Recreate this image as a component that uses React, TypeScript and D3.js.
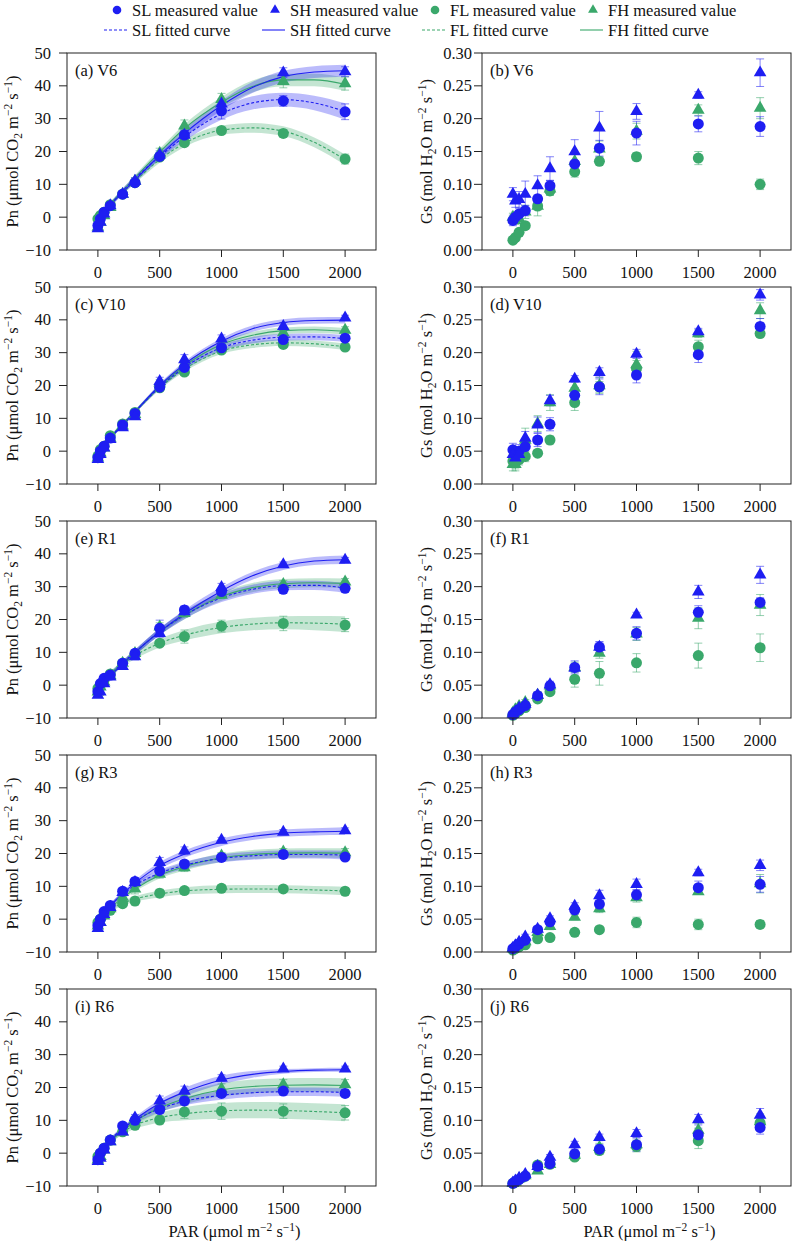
import React from "react";
import * as d3 from "d3";

// ---------- data ----------
const PAR = [0, 20, 50, 100, 200, 300, 500, 700, 1000, 1500, 2000];
const FIT_PAR = [0, 100, 200, 300, 500, 700, 1000, 1250, 1500, 1750, 2000];
const X_TICKS = [0, 500, 1000, 1500, 2000];
const PN_TICKS = [-10, 0, 10, 20, 30, 40, 50];
const GS_TICKS = [0, 0.05, 0.1, 0.15, 0.2, 0.25, 0.3];
const SERIES_NAMES = ["SL", "SH", "FL", "FH"];
const PANEL_LABELS = ["(a) V6", "(b) V6", "(c) V10", "(d) V10", "(e) R1", "(f) R1", "(g) R3", "(h) R3", "(i) R6", "(j) R6"];

// (a) V6 Pn
const pnV6_SL = [-2.5, -0.5, 1.5, 3.5, 7, 10.5, 18.5, 25, 32.4, 35.4, 32.1];
const pnV6_SH = [-3.5, -1.5, 1, 3.5, 7, 11, 19, 25, 34.5, 44, 44.3];
const pnV6_FL = [-0.5, 0.5, 1.5, 3.8, 7, 10.5, 18.3, 22.7, 26.4, 25.5, 17.7];
const pnV6_FH = [-3, -1.5, 0.5, 3, 7, 11, 19.5, 27.8, 35.9, 41.4, 40.7];
const pnV6_SL_err = [0.5, 0.5, 0.5, 0.6, 0.8, 1.0, 1.2, 1.5, 2.5, 1.6, 2.4];
const pnV6_SH_err = [0.6, 0.6, 0.6, 0.6, 0.8, 1.0, 1.2, 1.5, 1.5, 1.5, 1.5];
const pnV6_FL_err = [0.4, 0.4, 0.4, 0.5, 0.6, 0.8, 1.0, 1.0, 0.8, 1.2, 1.5];
const pnV6_FH_err = [0.6, 0.6, 0.6, 0.6, 0.8, 1.0, 1.5, 1.8, 1.8, 2.0, 2.0];
const pnV6_SL_fit = [-2.5, 3.5, 8, 11.8, 18.5, 24.5, 31.5, 34.8, 35.8, 34.8, 32.2];
const pnV6_SH_fit = [-3, 3.5, 7.5, 11.3, 18.8, 25.5, 34, 39.5, 42.8, 44.2, 44.6];
const pnV6_FL_fit = [-0.5, 4, 7.5, 11, 17.5, 22.5, 26.5, 27.2, 26.2, 22.8, 17.5];
const pnV6_FH_fit = [-3, 3.6, 8, 12, 19.8, 27, 35, 39.8, 41.8, 41.8, 40.5];
const pnV6_SL_band = [0.8, 0.7, 0.7, 0.8, 1.0, 1.3, 1.8, 2.0, 2.1, 2.2, 2.5];
const pnV6_SH_band = [0.8, 0.7, 0.7, 0.8, 1.0, 1.2, 1.5, 1.7, 1.8, 1.8, 1.8];
const pnV6_FL_band = [0.8, 0.6, 0.6, 0.7, 0.9, 1.1, 1.4, 1.5, 1.5, 1.5, 1.6];
const pnV6_FH_band = [0.8, 0.7, 0.7, 0.8, 1.0, 1.3, 1.6, 1.8, 1.9, 1.9, 2.0];

// (b) V6 Gs
const gsV6_SL = [0.045, 0.05, 0.055, 0.06, 0.078, 0.098, 0.131, 0.155, 0.178, 0.192, 0.188];
const gsV6_SH = [0.085, 0.075, 0.077, 0.085, 0.098, 0.124, 0.15, 0.186, 0.211, 0.236, 0.27];
const gsV6_FL = [0.015, 0.019, 0.027, 0.037, 0.067, 0.09, 0.119, 0.135, 0.142, 0.14, 0.1];
const gsV6_FH = [0.05, 0.045, 0.048, 0.058, 0.067, 0.093, 0.135, 0.154, 0.181, 0.213, 0.216];
const gsV6_SL_err = [0.008, 0.008, 0.008, 0.008, 0.006, 0.008, 0.015, 0.012, 0.018, 0.012, 0.015];
const gsV6_SH_err = [0.01, 0.01, 0.012, 0.02, 0.015, 0.018, 0.018, 0.025, 0.012, 0.005, 0.021];
const gsV6_FL_err = [0.003, 0.003, 0.004, 0.005, 0.006, 0.006, 0.008, 0.005, 0.006, 0.01, 0.008];
const gsV6_FH_err = [0.006, 0.006, 0.008, 0.01, 0.015, 0.01, 0.012, 0.012, 0.012, 0.008, 0.016];

// (c) V10 Pn
const pnV10_SL = [-2, 0, 1.5, 4, 8, 11.5, 19.5, 25.5, 31.5, 34, 34.4];
const pnV10_SH = [-2.5, -1, 1, 3.6, 7.2, 10.5, 21.3, 27.9, 34.2, 38, 40.6];
const pnV10_FL = [-1.5, 0.5, 1.5, 4.7, 8.3, 11.8, 19.3, 24.1, 30.8, 32.5, 31.7];
const pnV10_FH = [-2, -0.5, 1, 4, 7.7, 11.2, 20.8, 26.5, 32, 36.1, 36.9];
const pnV10_SL_err = [0.5, 0.5, 0.5, 0.5, 0.6, 0.8, 1.0, 1.2, 1.0, 1.0, 1.0];
const pnV10_SH_err = [0.5, 0.5, 0.5, 0.5, 0.6, 0.8, 1.2, 1.5, 1.2, 1.2, 0.8];
const pnV10_FL_err = [0.4, 0.4, 0.4, 0.5, 0.6, 0.8, 0.8, 1.0, 0.8, 0.8, 0.8];
const pnV10_FH_err = [0.5, 0.5, 0.5, 0.5, 0.6, 0.8, 1.0, 1.2, 1.0, 1.2, 1.0];
const pnV10_SL_fit = [-2, 4, 8, 12, 19.5, 25.5, 31.5, 33.8, 34.7, 34.8, 34.3];
const pnV10_SH_fit = [-2.5, 3.8, 8, 12, 20, 26.5, 33.5, 37.3, 39.2, 39.8, 39.9];
const pnV10_FL_fit = [-1.5, 4.2, 8.3, 12, 19.3, 25, 30.5, 32.4, 33, 32.7, 31.8];
const pnV10_FH_fit = [-2, 4, 8, 12, 19.8, 26, 32.5, 35.3, 36.7, 37, 36.5];
const pnV10_SL_band = [0.6, 0.5, 0.5, 0.5, 0.6, 0.8, 0.9, 1.0, 1.0, 1.0, 1.0];
const pnV10_SH_band = [0.6, 0.5, 0.5, 0.5, 0.6, 0.8, 0.9, 1.0, 1.0, 1.0, 1.0];
const pnV10_FL_band = [0.6, 0.5, 0.5, 0.5, 0.6, 0.8, 0.9, 1.0, 1.0, 1.0, 1.0];
const pnV10_FH_band = [0.6, 0.5, 0.5, 0.5, 0.6, 0.8, 0.9, 1.0, 1.0, 1.0, 1.0];

// (d) V10 Gs
const gsV10_SL = [0.052, 0.045, 0.05, 0.057, 0.067, 0.091, 0.135, 0.148, 0.166, 0.197, 0.24];
const gsV10_SH = [0.045, 0.04, 0.045, 0.07, 0.09, 0.127, 0.16, 0.17, 0.198, 0.232, 0.288];
const gsV10_FL = [0.035, 0.033, 0.037, 0.042, 0.047, 0.067, 0.124, 0.148, 0.176, 0.209, 0.229];
const gsV10_FH = [0.03, 0.03, 0.045, 0.067, 0.092, 0.124, 0.146, 0.15, 0.182, 0.229, 0.264];
const gsV10_SL_err = [0.01, 0.01, 0.01, 0.012, 0.01, 0.01, 0.012, 0.012, 0.012, 0.012, 0.012];
const gsV10_SH_err = [0.01, 0.008, 0.008, 0.01, 0.012, 0.008, 0.005, 0.007, 0.007, 0.005, 0.008];
const gsV10_FL_err = [0.01, 0.01, 0.008, 0.008, 0.005, 0.006, 0.012, 0.008, 0.012, 0.01, 0.006];
const gsV10_FH_err = [0.01, 0.01, 0.012, 0.018, 0.012, 0.012, 0.01, 0.012, 0.02, 0.006, 0.012];

// (e) R1 Pn
const pnR1_SL = [-2, 0.5, 2.1, 3.1, 6.7, 9.7, 17.3, 22.9, 28.5, 29.2, 29.5];
const pnR1_SH = [-3, -2, 0.5, 2.5, 5.7, 8.7, 15.8, 22.4, 29.8, 36.7, 38.1];
const pnR1_FL = [-1, 0, 1.5, 3.4, 6.7, 9.4, 12.8, 14.8, 18, 18.8, 18.3];
const pnR1_FH = [-2, -0.5, 1, 2.9, 6.7, 9.7, 17.8, 21.9, 27.4, 30.7, 31.5];
const pnR1_SL_err = [0.5, 0.5, 0.5, 0.6, 0.8, 1.0, 2.5, 1.2, 1.0, 1.2, 1.0];
const pnR1_SH_err = [0.5, 0.5, 0.5, 0.6, 0.8, 1.0, 1.2, 1.0, 1.2, 0.8, 0.8];
const pnR1_FL_err = [0.4, 0.4, 0.4, 0.5, 0.6, 0.8, 1.0, 2.0, 1.8, 2.2, 2.0];
const pnR1_FH_err = [0.5, 0.5, 0.5, 0.6, 0.8, 1.0, 1.2, 1.2, 1.0, 1.2, 1.0];
const pnR1_SL_fit = [-2, 3, 6.8, 10, 16.3, 21.3, 26.6, 29.2, 30.3, 30.4, 29.6];
const pnR1_SH_fit = [-3, 2.6, 6.5, 10, 16.3, 21.8, 28.7, 33.3, 36.3, 37.8, 38.2];
const pnR1_FL_fit = [-1, 3.4, 6.5, 9, 12.8, 15.2, 17.6, 18.6, 19, 18.9, 18.6];
const pnR1_FH_fit = [-2, 3, 6.8, 10, 16.3, 21.3, 27, 29.7, 30.9, 31.2, 31];
const pnR1_SL_band = [0.8, 0.7, 0.7, 0.8, 1.0, 1.2, 1.3, 1.4, 1.4, 1.4, 1.5];
const pnR1_SH_band = [0.8, 0.7, 0.7, 0.8, 1.0, 1.1, 1.2, 1.2, 1.2, 1.2, 1.3];
const pnR1_FL_band = [0.8, 0.8, 0.8, 1.0, 1.3, 1.6, 1.8, 1.9, 2.0, 2.2, 2.4];
const pnR1_FH_band = [0.8, 0.7, 0.7, 0.8, 1.0, 1.2, 1.3, 1.4, 1.4, 1.4, 1.5];

// (f) R1 Gs
const gsR1_SL = [0.005, 0.009, 0.013, 0.019, 0.034, 0.049, 0.077, 0.108, 0.129, 0.161, 0.176];
const gsR1_SH = [0.006, 0.01, 0.015, 0.021, 0.035, 0.051, 0.076, 0.108, 0.157, 0.192, 0.218];
const gsR1_FL = [0.004, 0.007, 0.011, 0.016, 0.029, 0.04, 0.059, 0.068, 0.084, 0.095, 0.107];
const gsR1_FH = [0.008, 0.013, 0.018, 0.024, 0.035, 0.049, 0.077, 0.099, 0.128, 0.152, 0.172];
const gsR1_SL_err = [0.003, 0.003, 0.003, 0.004, 0.005, 0.005, 0.01, 0.008, 0.01, 0.01, 0.007];
const gsR1_SH_err = [0.003, 0.003, 0.003, 0.004, 0.004, 0.005, 0.006, 0.008, 0.004, 0.01, 0.013];
const gsR1_FL_err = [0.002, 0.002, 0.003, 0.003, 0.004, 0.004, 0.012, 0.018, 0.014, 0.019, 0.021];
const gsR1_FH_err = [0.003, 0.003, 0.003, 0.004, 0.005, 0.004, 0.008, 0.008, 0.01, 0.016, 0.016];

// (g) R3 Pn
const pnR3_SL = [-2, 0, 2.3, 4.2, 8.5, 11.5, 14.7, 16.8, 18.8, 19.7, 18.9];
const pnR3_SH = [-2.8, -1, 1.5, 3.6, 8.2, 11.2, 17.3, 20.8, 24.1, 26.5, 27];
const pnR3_FL = [-1, 0, 1.5, 2.7, 4.7, 5.5, 7.9, 8.7, 9.4, 9.2, 8.5];
const pnR3_FH = [-2, -1, 1, 3.2, 6.7, 9.2, 13.7, 15.7, 19.3, 20.5, 20.3];
const pnR3_SL_err = [0.5, 0.5, 0.5, 0.5, 0.8, 1.0, 1.2, 1.0, 1.0, 1.2, 0.8];
const pnR3_SH_err = [0.5, 0.5, 0.5, 0.5, 0.8, 1.0, 1.5, 1.2, 0.8, 0.8, 0.8];
const pnR3_FL_err = [0.4, 0.4, 0.4, 0.5, 0.8, 1.2, 1.2, 1.0, 1.0, 0.8, 0.8];
const pnR3_FH_err = [0.5, 0.5, 0.5, 0.5, 0.8, 1.5, 1.2, 1.2, 1.0, 1.0, 1.2];
const pnR3_SL_fit = [-2, 4, 7.5, 10.3, 14, 16.4, 18.5, 19.3, 19.7, 19.7, 19.5];
const pnR3_SH_fit = [-2.8, 3.8, 7.8, 11, 16.3, 19.8, 23.4, 25.2, 26.2, 26.6, 26.8];
const pnR3_FL_fit = [-1, 2.8, 4.8, 6.1, 7.7, 8.6, 9.1, 9.2, 9.1, 8.9, 8.6];
const pnR3_FH_fit = [-2, 3.2, 6.5, 9.2, 13.4, 16, 18.7, 19.7, 20.1, 20.2, 20.1];
const pnR3_SL_band = [0.8, 0.7, 0.7, 0.8, 1.0, 1.1, 1.2, 1.2, 1.2, 1.2, 1.3];
const pnR3_SH_band = [0.8, 0.7, 0.7, 0.8, 1.0, 1.1, 1.1, 1.1, 1.1, 1.1, 1.2];
const pnR3_FL_band = [0.8, 0.7, 0.7, 0.8, 1.0, 1.1, 1.2, 1.2, 1.2, 1.2, 1.3];
const pnR3_FH_band = [0.8, 0.7, 0.7, 0.8, 1.0, 1.2, 1.3, 1.4, 1.4, 1.4, 1.5];

// (h) R3 Gs
const gsR3_SL = [0.005, 0.008, 0.012, 0.018, 0.034, 0.046, 0.064, 0.073, 0.087, 0.098, 0.103];
const gsR3_SH = [0.006, 0.01, 0.015, 0.023, 0.035, 0.051, 0.07, 0.086, 0.103, 0.121, 0.132];
const gsR3_FL = [0.003, 0.005, 0.008, 0.011, 0.02, 0.022, 0.03, 0.034, 0.045, 0.042, 0.042];
const gsR3_FH = [0.005, 0.008, 0.012, 0.016, 0.03, 0.039, 0.053, 0.066, 0.083, 0.092, 0.104];
const gsR3_SL_err = [0.002, 0.002, 0.002, 0.003, 0.004, 0.004, 0.006, 0.006, 0.007, 0.01, 0.012];
const gsR3_SH_err = [0.002, 0.002, 0.003, 0.004, 0.004, 0.004, 0.005, 0.008, 0.008, 0.005, 0.008];
const gsR3_FL_err = [0.002, 0.002, 0.002, 0.002, 0.003, 0.003, 0.004, 0.004, 0.008, 0.008, 0.006];
const gsR3_FH_err = [0.002, 0.002, 0.002, 0.003, 0.003, 0.005, 0.004, 0.006, 0.007, 0.004, 0.014];

// (i) R6 Pn
const pnR6_SL = [-2, 0, 1.5, 4, 8.3, 10, 13.3, 15.9, 18.2, 18.9, 18.2];
const pnR6_SH = [-2.5, -1.5, 1, 3.5, 6.5, 10.8, 15.9, 18.9, 22.9, 25.7, 25.7];
const pnR6_FL = [-1, 0, 1.5, 4, 6.5, 8.5, 10.1, 12.6, 12.8, 12.8, 12.3];
const pnR6_FH = [-2, -1, 1, 3.5, 6.5, 10.3, 14.3, 16.9, 19.6, 20.9, 20.9];
const pnR6_SL_err = [0.5, 0.5, 0.5, 0.5, 0.8, 1.0, 1.2, 1.2, 1.0, 1.2, 1.0];
const pnR6_SH_err = [0.5, 0.5, 0.5, 0.5, 0.8, 1.0, 1.5, 1.5, 1.0, 0.8, 0.8];
const pnR6_FL_err = [0.4, 0.4, 0.4, 0.5, 0.8, 1.0, 1.2, 2.0, 2.5, 2.2, 2.2];
const pnR6_FH_err = [0.5, 0.5, 0.5, 0.5, 0.8, 1.0, 1.5, 1.5, 1.5, 1.5, 1.5];
const pnR6_SL_fit = [-2, 3.8, 7.5, 10, 13.5, 15.8, 17.6, 18.4, 18.7, 18.7, 18.5];
const pnR6_SH_fit = [-2.5, 3.6, 7.3, 10.3, 15.2, 18.6, 22.3, 24, 24.9, 25.3, 25.4];
const pnR6_FL_fit = [-1, 3.7, 6.5, 8.5, 10.8, 12, 12.9, 13.1, 13, 12.7, 12.3];
const pnR6_FH_fit = [-2, 3.5, 6.8, 9.6, 13.8, 16.6, 19.3, 20.3, 20.7, 20.8, 20.6];
const pnR6_SL_band = [0.8, 0.7, 0.7, 0.8, 1.0, 1.2, 1.3, 1.3, 1.3, 1.3, 1.3];
const pnR6_SH_band = [0.8, 0.7, 0.7, 0.8, 1.1, 1.3, 1.3, 1.0, 0.7, 0.6, 0.6];
const pnR6_FL_band = [0.8, 0.8, 0.9, 1.1, 1.5, 2.0, 2.4, 2.5, 2.5, 2.5, 2.6];
const pnR6_FH_band = [0.8, 0.8, 0.8, 1.0, 1.4, 1.8, 2.0, 2.1, 2.1, 2.1, 2.2];

// (j) R6 Gs
const gsR6_SL = [0.004, 0.007, 0.01, 0.015, 0.03, 0.034, 0.049, 0.056, 0.063, 0.078, 0.089];
const gsR6_SH = [0.005, 0.008, 0.012, 0.018, 0.03, 0.044, 0.063, 0.074, 0.08, 0.101, 0.108];
const gsR6_FL = [0.004, 0.006, 0.01, 0.015, 0.032, 0.033, 0.044, 0.054, 0.06, 0.069, 0.096];
const gsR6_FH = [0.004, 0.006, 0.011, 0.016, 0.023, 0.033, 0.047, 0.059, 0.063, 0.085, 0.098];
const gsR6_SL_err = [0.002, 0.002, 0.002, 0.003, 0.005, 0.004, 0.006, 0.007, 0.01, 0.01, 0.01];
const gsR6_SH_err = [0.002, 0.002, 0.002, 0.003, 0.004, 0.004, 0.005, 0.005, 0.006, 0.008, 0.01];
const gsR6_FL_err = [0.002, 0.002, 0.002, 0.003, 0.004, 0.004, 0.005, 0.006, 0.008, 0.012, 0.01];
const gsR6_FH_err = [0.002, 0.002, 0.002, 0.003, 0.004, 0.004, 0.005, 0.006, 0.007, 0.01, 0.012];

// ---------- styling ----------
const BLUE = "#1e1ef2";
const GREEN = "#3aa86b";
const FONT = "'Liberation Serif', 'Times New Roman', serif";
const FS = 16.5;
const STYLE: Record<string, { color: string; shape: string; dash: string | null }> = {
  SL: { color: BLUE, shape: "circle", dash: "3,2" },
  SH: { color: BLUE, shape: "triangle", dash: null },
  FL: { color: GREEN, shape: "circle", dash: "3,2" },
  FH: { color: GREEN, shape: "triangle", dash: null },
};
const DRAW_ORDER = ["FL", "FH", "SL", "SH"];

type S = { name: string; vals: number[]; errs: number[]; fit?: number[]; band?: number[] };

const pnPanels: S[][] = [
  [
    { name: "SL", vals: pnV6_SL, errs: pnV6_SL_err, fit: pnV6_SL_fit, band: pnV6_SL_band },
    { name: "SH", vals: pnV6_SH, errs: pnV6_SH_err, fit: pnV6_SH_fit, band: pnV6_SH_band },
    { name: "FL", vals: pnV6_FL, errs: pnV6_FL_err, fit: pnV6_FL_fit, band: pnV6_FL_band },
    { name: "FH", vals: pnV6_FH, errs: pnV6_FH_err, fit: pnV6_FH_fit, band: pnV6_FH_band },
  ],
  [
    { name: "SL", vals: pnV10_SL, errs: pnV10_SL_err, fit: pnV10_SL_fit, band: pnV10_SL_band },
    { name: "SH", vals: pnV10_SH, errs: pnV10_SH_err, fit: pnV10_SH_fit, band: pnV10_SH_band },
    { name: "FL", vals: pnV10_FL, errs: pnV10_FL_err, fit: pnV10_FL_fit, band: pnV10_FL_band },
    { name: "FH", vals: pnV10_FH, errs: pnV10_FH_err, fit: pnV10_FH_fit, band: pnV10_FH_band },
  ],
  [
    { name: "SL", vals: pnR1_SL, errs: pnR1_SL_err, fit: pnR1_SL_fit, band: pnR1_SL_band },
    { name: "SH", vals: pnR1_SH, errs: pnR1_SH_err, fit: pnR1_SH_fit, band: pnR1_SH_band },
    { name: "FL", vals: pnR1_FL, errs: pnR1_FL_err, fit: pnR1_FL_fit, band: pnR1_FL_band },
    { name: "FH", vals: pnR1_FH, errs: pnR1_FH_err, fit: pnR1_FH_fit, band: pnR1_FH_band },
  ],
  [
    { name: "SL", vals: pnR3_SL, errs: pnR3_SL_err, fit: pnR3_SL_fit, band: pnR3_SL_band },
    { name: "SH", vals: pnR3_SH, errs: pnR3_SH_err, fit: pnR3_SH_fit, band: pnR3_SH_band },
    { name: "FL", vals: pnR3_FL, errs: pnR3_FL_err, fit: pnR3_FL_fit, band: pnR3_FL_band },
    { name: "FH", vals: pnR3_FH, errs: pnR3_FH_err, fit: pnR3_FH_fit, band: pnR3_FH_band },
  ],
  [
    { name: "SL", vals: pnR6_SL, errs: pnR6_SL_err, fit: pnR6_SL_fit, band: pnR6_SL_band },
    { name: "SH", vals: pnR6_SH, errs: pnR6_SH_err, fit: pnR6_SH_fit, band: pnR6_SH_band },
    { name: "FL", vals: pnR6_FL, errs: pnR6_FL_err, fit: pnR6_FL_fit, band: pnR6_FL_band },
    { name: "FH", vals: pnR6_FH, errs: pnR6_FH_err, fit: pnR6_FH_fit, band: pnR6_FH_band },
  ],
];

const gsPanels: S[][] = [
  [
    { name: "SL", vals: gsV6_SL, errs: gsV6_SL_err },
    { name: "SH", vals: gsV6_SH, errs: gsV6_SH_err },
    { name: "FL", vals: gsV6_FL, errs: gsV6_FL_err },
    { name: "FH", vals: gsV6_FH, errs: gsV6_FH_err },
  ],
  [
    { name: "SL", vals: gsV10_SL, errs: gsV10_SL_err },
    { name: "SH", vals: gsV10_SH, errs: gsV10_SH_err },
    { name: "FL", vals: gsV10_FL, errs: gsV10_FL_err },
    { name: "FH", vals: gsV10_FH, errs: gsV10_FH_err },
  ],
  [
    { name: "SL", vals: gsR1_SL, errs: gsR1_SL_err },
    { name: "SH", vals: gsR1_SH, errs: gsR1_SH_err },
    { name: "FL", vals: gsR1_FL, errs: gsR1_FL_err },
    { name: "FH", vals: gsR1_FH, errs: gsR1_FH_err },
  ],
  [
    { name: "SL", vals: gsR3_SL, errs: gsR3_SL_err },
    { name: "SH", vals: gsR3_SH, errs: gsR3_SH_err },
    { name: "FL", vals: gsR3_FL, errs: gsR3_FL_err },
    { name: "FH", vals: gsR3_FH, errs: gsR3_FH_err },
  ],
  [
    { name: "SL", vals: gsR6_SL, errs: gsR6_SL_err },
    { name: "SH", vals: gsR6_SH, errs: gsR6_SH_err },
    { name: "FL", vals: gsR6_FL, errs: gsR6_FL_err },
    { name: "FH", vals: gsR6_FH, errs: gsR6_FH_err },
  ],
];

// ---------- layout ----------
const W = 794;
const H = 1243;
const ROW_TOP0 = 53;
const ROW_STEP = 234;
const PLOT_H = 197;
const COLS = [
  { left: 67, right: 376, labelGap: 16, titleX: 18 },
  { left: 482, right: 791, labelGap: 10, titleX: 432 },
];

function Marker({ shape, x, y, color, r = 5.5 }: { shape: string; x: number; y: number; color: string; r?: number }) {
  if (shape === "circle") return <circle cx={x} cy={y} r={r} fill={color} />;
  const s = r * 2.3;
  const h = (s * Math.sqrt(3)) / 2;
  const p = `M${x},${y - (2 * h) / 3}L${x + s / 2},${y + h / 3}L${x - s / 2},${y + h / 3}Z`;
  return <path d={p} fill={color} />;
}

function YTitle({ x, cy, kind }: { x: number; cy: number; kind: string }) {
  return (
    <text transform={`translate(${x},${cy}) rotate(-90)`} textAnchor="middle" fontFamily={FONT} fontSize={FS} fill="#111">
      {kind === "pn" ? (
        <>
          <tspan>Pn (μmol CO</tspan>
          <tspan fontSize={11.5} dy={4}>2</tspan>
          <tspan dy={-4}> m</tspan>
          <tspan fontSize={11.5} dy={-6}>−2</tspan>
          <tspan dy={6}> s</tspan>
          <tspan fontSize={11.5} dy={-6}>−1</tspan>
          <tspan dy={6}>)</tspan>
        </>
      ) : (
        <>
          <tspan>Gs (mol H</tspan>
          <tspan fontSize={11.5} dy={4}>2</tspan>
          <tspan dy={-4}>O m</tspan>
          <tspan fontSize={11.5} dy={-6}>−2</tspan>
          <tspan dy={6}> s</tspan>
          <tspan fontSize={11.5} dy={-6}>−1</tspan>
          <tspan dy={6}>)</tspan>
        </>
      )}
    </text>
  );
}

function Panel({ row, col, series, label }: { row: number; col: number; series: S[]; label: string }) {
  const c = COLS[col];
  const top = ROW_TOP0 + row * ROW_STEP;
  const bottom = top + PLOT_H;
  const isPn = col === 0;
  const x = d3.scaleLinear().domain([-250, 2250]).range([c.left, c.right]);
  const y = d3.scaleLinear().domain(isPn ? [-10, 50] : [0, 0.3]).range([bottom, top]);
  const yTicks = isPn ? PN_TICKS : GS_TICKS;
  const fmt = isPn ? d3.format("d") : d3.format(".2f");
  const line = d3
    .line<[number, number]>()
    .x((d) => x(d[0]))
    .y((d) => y(d[1]))
    .curve(d3.curveMonotoneX);
  const area = d3
    .area<[number, number, number]>()
    .x((d) => x(d[0]))
    .y0((d) => y(d[1] - d[2]))
    .y1((d) => y(d[1] + d[2]))
    .curve(d3.curveMonotoneX);
  const byName: Record<string, S> = {};
  series.forEach((s) => (byName[s.name] = s));
  const ordered = DRAW_ORDER.map((n) => byName[n]);

  return (
    <g>
      {ordered.map((s) =>
        s.fit && s.band ? (
          <path
            key={"b" + s.name}
            d={area(FIT_PAR.map((p, i) => [p, s.fit![i], s.band![i]] as [number, number, number])) || ""}
            fill={STYLE[s.name].color}
            fillOpacity={0.3}
            stroke="none"
          />
        ) : null
      )}
      {ordered.map((s) =>
        s.fit ? (
          <path
            key={"c" + s.name}
            d={line(FIT_PAR.map((p, i) => [p, s.fit![i]] as [number, number])) || ""}
            fill="none"
            stroke={STYLE[s.name].color}
            strokeWidth={1.1}
            strokeDasharray={STYLE[s.name].dash || undefined}
          />
        ) : null
      )}
      {ordered.map((s) => (
        <g key={"e" + s.name} stroke={STYLE[s.name].color} strokeOpacity={0.55} strokeWidth={1}>
          {PAR.map((p, i) => {
            const px = x(p);
            const y1 = y(s.vals[i] + s.errs[i]);
            const y2 = y(s.vals[i] - s.errs[i]);
            return (
              <g key={i}>
                <line x1={px} x2={px} y1={y1} y2={y2} />
                <line x1={px - 4} x2={px + 4} y1={y1} y2={y1} />
                <line x1={px - 4} x2={px + 4} y1={y2} y2={y2} />
              </g>
            );
          })}
        </g>
      ))}
      {ordered.map((s) => (
        <g key={"m" + s.name}>
          {PAR.map((p, i) => (
            <Marker key={i} shape={STYLE[s.name].shape} x={x(p)} y={y(s.vals[i])} color={STYLE[s.name].color} />
          ))}
        </g>
      ))}
      <rect x={c.left} y={top} width={c.right - c.left} height={PLOT_H} fill="none" stroke="#222" strokeWidth={1} />
      {yTicks.map((t) => (
        <g key={"yt" + t}>
          <line x1={c.left - 8} x2={c.left} y1={y(t)} y2={y(t)} stroke="#222" />
          <text x={c.left - c.labelGap} y={y(t) + 5.5} textAnchor="end" fontFamily={FONT} fontSize={FS} fill="#111">
            {fmt(t)}
          </text>
        </g>
      ))}
      {X_TICKS.map((t) => (
        <g key={"xt" + t}>
          <line x1={x(t)} x2={x(t)} y1={bottom} y2={bottom + 7} stroke="#222" />
          <text x={x(t)} y={bottom + 28} textAnchor="middle" fontFamily={FONT} fontSize={FS} fill="#111">
            {t}
          </text>
        </g>
      ))}
      <text x={c.left + 8} y={top + 23} fontFamily={FONT} fontSize={FS} fill="#111">
        {label}
      </text>
      <YTitle x={c.titleX} cy={(top + bottom) / 2} kind={isPn ? "pn" : "gs"} />
      {row === 4 ? (
        <text x={(c.left + c.right) / 2 + 13} y={bottom + 51} textAnchor="middle" fontFamily={FONT} fontSize={FS} fill="#111">
          <tspan>PAR (μmol m</tspan>
          <tspan fontSize={11.5} dy={-6}>−2</tspan>
          <tspan dy={6}> s</tspan>
          <tspan fontSize={11.5} dy={-6}>−1</tspan>
          <tspan dy={6}>)</tspan>
        </text>
      ) : null}
    </g>
  );
}

function Legend() {
  const x0 = [117, 275, 435, 593];
  return (
    <g fontFamily={FONT} fontSize={FS} fill="#111">
      {SERIES_NAMES.map((n, i) => (
        <g key={"l1" + n}>
          <Marker shape={STYLE[n].shape} x={x0[i]} y={10} color={STYLE[n].color} r={4.3} />
          <text x={x0[i] + 15} y={15.5}>
            {n} measured value
          </text>
        </g>
      ))}
      {SERIES_NAMES.map((n, i) => (
        <g key={"l2" + n}>
          <line
            x1={x0[i] - 13}
            x2={x0[i] + 10}
            y1={30}
            y2={30}
            stroke={STYLE[n].color}
            strokeWidth={1.1}
            strokeDasharray={STYLE[n].dash || undefined}
          />
          <text x={x0[i] + 15} y={35.5}>
            {n} fitted curve
          </text>
        </g>
      ))}
    </g>
  );
}

export default function App() {
  return (
    <svg width={W} height={H} style={{ position: "absolute", left: 0, top: 0, background: "#fff" }}>
      <rect x={0} y={0} width={W} height={H} fill="#fff" />
      <Legend />
      {pnPanels.map((s, r) => (
        <Panel key={"pn" + r} row={r} col={0} series={s} label={PANEL_LABELS[r * 2]} />
      ))}
      {gsPanels.map((s, r) => (
        <Panel key={"gs" + r} row={r} col={1} series={s} label={PANEL_LABELS[r * 2 + 1]} />
      ))}
    </svg>
  );
}
